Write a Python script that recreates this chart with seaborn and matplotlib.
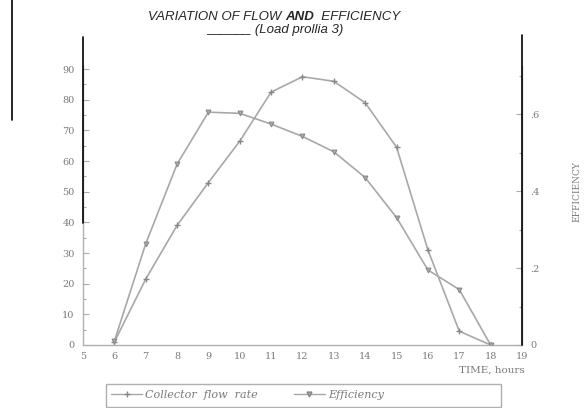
import matplotlib
matplotlib.use("Agg")
import matplotlib.pyplot as plt
import seaborn as sns
from matplotlib.lines import Line2D
from matplotlib.patches import Rectangle
from matplotlib.ticker import MultipleLocator, FixedLocator

# -------------------------------
# Data
# -------------------------------
hours = [6, 7, 8, 9, 10, 11, 12, 13, 14, 15, 16, 17, 18]
flow_rate = [1, 21.5, 39, 53, 66.5, 82.5, 87.5, 86, 79, 64.5, 31, 4.5, 0]
efficiency = [0.01, 0.263, 0.47, 0.605, 0.602, 0.574, 0.542, 0.502, 0.435, 0.331, 0.195, 0.144, 0]

x_ticks = list(range(5, 20))
eff_ticks = [0, 0.2, 0.4, 0.6]
eff_labels = ["0", ".2", ".4", ".6"]

sns.set_style("white")
plt.rcParams["font.family"] = ["DejaVu Serif"]

line_col = "#a8a8a8"
txt_col = "#7a7a7a"

fig = plt.figure(figsize=(5.85, 4.08), dpi=100)
ax = fig.add_axes([83 / 585, 1 - 345 / 408, 439 / 585, 279 / 408])
ax2 = ax.twinx()

# -------------------------------
# Curves
# -------------------------------
sns.lineplot(x=hours, y=flow_rate, ax=ax, color=line_col, lw=1.2,
             marker="+", markersize=5, markeredgecolor="#888888", markeredgewidth=1)
sns.lineplot(x=hours, y=efficiency, ax=ax2, color=line_col, lw=1.2,
             marker="v", markersize=3.5, markerfacecolor="#aaaaaa", markeredgecolor="#888888")

ax.set_xlim(5, 19)
ax.set_ylim(0, 91)
ax2.set_ylim(0, 0.725)

ax.xaxis.set_major_locator(FixedLocator(x_ticks))
ax.set_xticklabels([str(t) for t in x_ticks])
ax.yaxis.set_major_locator(MultipleLocator(10))
ax.yaxis.set_minor_locator(MultipleLocator(5))
ax2.yaxis.set_major_locator(FixedLocator(eff_ticks))
ax2.set_yticklabels(eff_labels)
ax2.yaxis.set_minor_locator(MultipleLocator(0.1))

for a in (ax, ax2):
    a.tick_params(which="both", direction="in", colors="#aaaaaa",
                  labelcolor=txt_col, labelsize=7, width=0.8)
    a.tick_params(which="major", length=4)
    a.tick_params(which="minor", length=2)
    for s in a.spines.values():
        s.set_color("#b0b0b0")
        s.set_linewidth(1)
    a.spines["top"].set_visible(False)
ax.spines["right"].set_visible(False)
ax2.spines["left"].set_visible(False)
ax2.spines["bottom"].set_visible(False)
ax.tick_params(axis="x", pad=5)
ax.tick_params(axis="y", pad=6)
ax2.tick_params(axis="y", pad=6)
ax.set_xlabel("")
ax.set_ylabel("")
ax2.set_ylabel("")

fig.text(525 / 585, 1 - 370 / 408, "TIME, hours", ha="right", va="center",
         fontsize=7.5, color=txt_col)
fig.text(577 / 585, 1 - 192 / 408, "EFFICIENCY", rotation=90, ha="center",
         va="center", fontsize=6.5, color=txt_col)

# -------------------------------
# Legend (box drawn separately)
# -------------------------------
handles = [
    Line2D([], [], color=line_col, lw=1, marker="+", markersize=5, markeredgecolor="#888888"),
    Line2D([], [], color=line_col, lw=1, marker="v", markersize=3.5,
           markerfacecolor="#aaaaaa", markeredgecolor="#888888"),
]
leg = fig.legend(handles, ["Collector  flow  rate", "Efficiency"], loc="center left",
                 bbox_to_anchor=(111 / 585, 1 - 395 / 408), ncol=2, fontsize=8,
                 frameon=False, handlelength=2.8, handletextpad=0.3,
                 columnspacing=3.2, borderpad=0, borderaxespad=0)
for t in leg.get_texts():
    t.set_color(txt_col)
    t.set_fontstyle("italic")
fig.add_artist(Rectangle((106 / 585, 1 - 407 / 408), 395 / 585, 23 / 408,
                         transform=fig.transFigure, fill=False,
                         edgecolor="#b0b0b0", lw=1))

# -------------------------------
# Title (mixed weight)
# -------------------------------
tfont = ["Liberation Sans", "DejaVu Sans"]
t1 = fig.text(148 / 585, 1 - 17 / 408, "VARIATION OF FLOW ", ha="left", va="center",
              fontsize=9.5, style="italic", family=tfont)
t2 = fig.text(0, 0, "AND", fontsize=9.5, style="italic", weight="bold", family=tfont)
t3 = fig.text(0, 0, "  EFFICIENCY", fontsize=9.5, style="italic", family=tfont)
fig.canvas.draw()
r = fig.canvas.get_renderer()
bb1 = t1.get_window_extent(r)
t2.set_position((bb1.x1 / fig.bbox.width, bb1.y0 / fig.bbox.height))
t2.set_va("bottom")
fig.canvas.draw()
bb2 = t2.get_window_extent(r)
t3.set_position((bb2.x1 / fig.bbox.width, bb1.y0 / fig.bbox.height))
t3.set_va("bottom")
fig.text(275 / 585, 1 - 30 / 408, "______ (Load prollia 3)", ha="center", va="center",
         fontsize=9.5, style="italic", family=tfont)

# -------------------------------
# Black overlay rules seen on the scan
# -------------------------------
fig.add_artist(Line2D([12 / 585, 12 / 585], [1.0, 1 - 120 / 408], color="black", lw=1.2))
fig.add_artist(Line2D([83 / 585, 83 / 585], [1 - 37 / 408, 1 - 223 / 408], color="black", lw=1.2))
fig.add_artist(Line2D([522 / 585, 522 / 585], [1 - 35 / 408, 1 - 345 / 408], color="black", lw=1.2))

fig.savefig("out.png", dpi=100)
